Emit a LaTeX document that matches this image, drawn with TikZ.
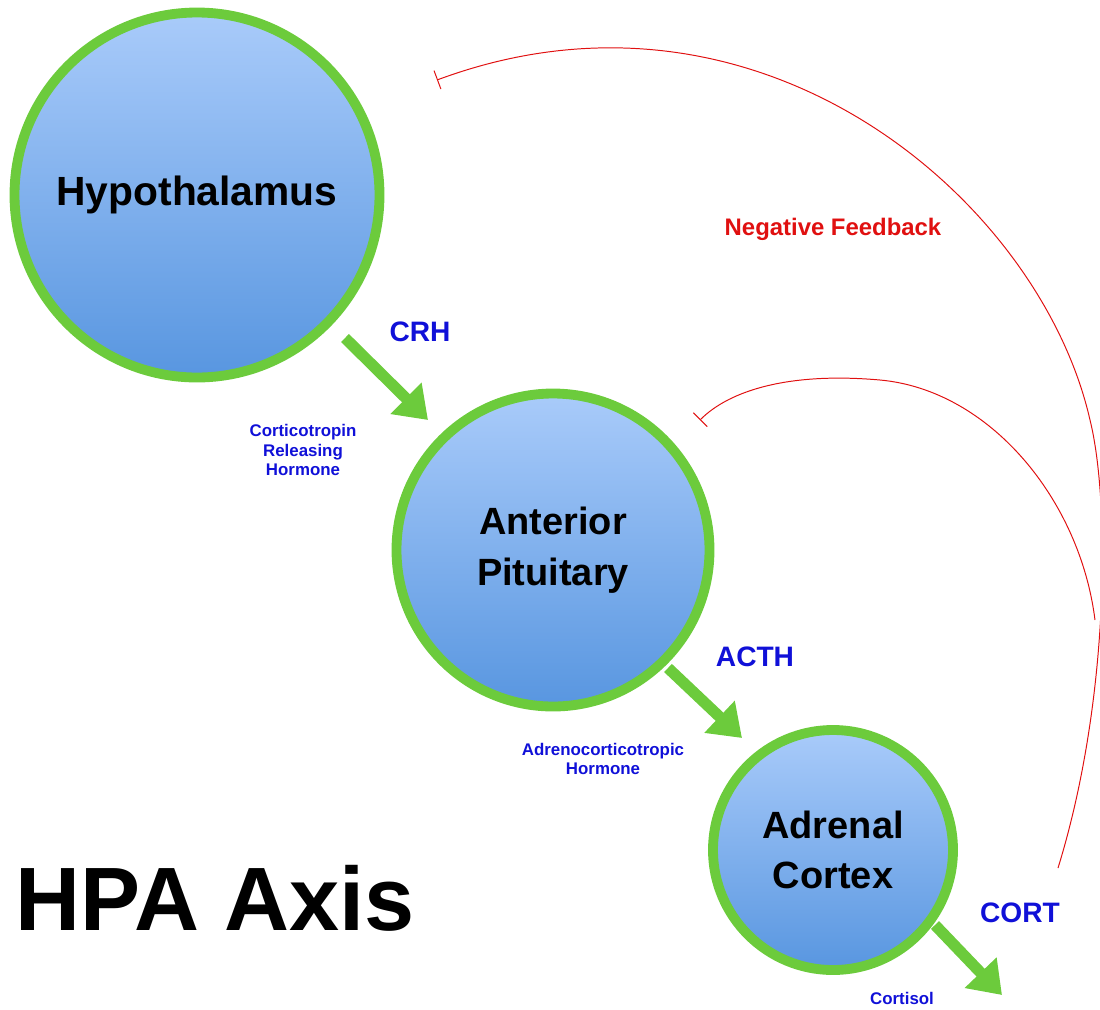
\documentclass[tikz,border=0pt]{standalone}
\usepackage{fontspec}
\setmainfont{Liberation Sans}
\usetikzlibrary{arrows.meta}
\definecolor{gr}{HTML}{6CCB3C}
\definecolor{lb}{HTML}{A9CBFA}
\definecolor{db}{HTML}{5896E0}
\definecolor{bl}{HTML}{1010D8}
\definecolor{rd}{HTML}{E01010}
\begin{document}
\begin{tikzpicture}[x=0.025cm,y=-0.025cm,
  gland/.style={circle,draw=gr,line width=7pt,top color=lb,bottom color=db,inner sep=0pt,font=\bfseries,align=center},
  flow/.style={draw=gr,line width=8pt,-{Triangle[length=22pt,width=30pt]}},
  big/.style={text=bl,font=\bfseries\fontsize{20}{24}\selectfont},
  small/.style={text=bl,font=\bfseries\fontsize{12}{14}\selectfont,align=center},
  fb/.style={draw=rd,line width=0.7pt,-{Bar[width=14pt]}}]
\useasboundingbox (0,0) rectangle (1100,1009);
\node[gland,minimum size=365*0.025cm,font=\bfseries\fontsize{29}{34}\selectfont] (h) at (197,195) {Hypothalamus};
\node[gland,minimum size=313*0.025cm,font=\bfseries\fontsize{27}{36}\selectfont] (p) at (553,550) {Anterior\\Pituitary};
\node[gland,minimum size=240*0.025cm,font=\bfseries\fontsize{27}{36}\selectfont] (a) at (833,850) {Adrenal\\Cortex};
\coordinate (h1) at (345,338); \coordinate (h2) at (428,420);
\coordinate (p1) at (668,668); \coordinate (p2) at (742,738);
\coordinate (a1) at (935,925); \coordinate (a2) at (1002,995);
\draw[flow] (h1) -- (h2);
\draw[flow] (p1) -- (p2);
\draw[flow] (a1) -- (a2);
\node[big] (crh) at (420,332) {CRH};
\node[small] (crhl) at (303,450) {Corticotropin\\Releasing\\Hormone};
\node[big] (acth) at (755,657) {ACTH};
\node[small] (acthl) at (603,759) {Adrenocorticotropic\\Hormone};
\node[big] (cort) at (1020,913) {CORT};
\node[small] (cortl) at (902,998) {Cortisol};
\node[text=rd,font=\bfseries\fontsize{17}{20}\selectfont] (nf) at (833,229) {Negative Feedback};
\node[font=\bfseries\fontsize{64}{70}\selectfont] (hpa) at (215,898) {HPA Axis};
\coordinate (s) at (1058,868);
\coordinate (t1) at (437,80);
\coordinate (m) at (1095,620);
\coordinate (t2) at (700,420);
\draw[fb] (s) .. controls (1110,700) and (1110,500) .. (1090,420) .. controls (1040,200) and (760,-40) .. (t1);
\draw[fb] (m) .. controls (1080,500) and (990,390) .. (880,380) .. controls (790,372) and (730,390) .. (t2);
\end{tikzpicture}
\end{document}
